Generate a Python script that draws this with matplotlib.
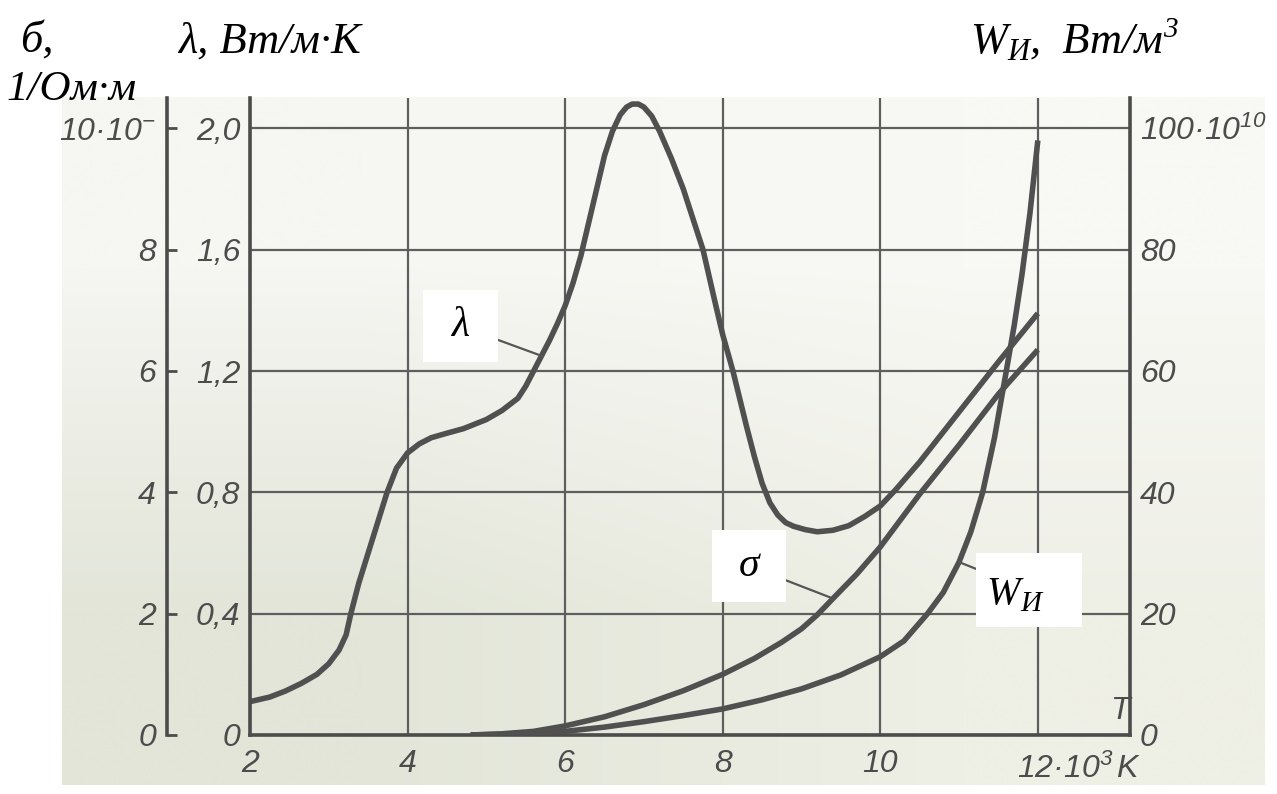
import matplotlib.pyplot as plt
import numpy as np
from matplotlib.patches import Rectangle

# temperature, 10^3 K, and thermal conductivity lambda, W/(m*K)
t_lam = [2.0, 2.25, 2.45, 2.65, 2.85, 3.0, 3.13, 3.22, 3.28, 3.38, 3.5, 3.62,
         3.74, 3.86, 4.0, 4.15, 4.3, 4.5, 4.71, 5.0, 5.2, 5.4, 5.5, 5.6,
         5.7, 5.8, 5.9, 6.0, 6.1, 6.2, 6.3, 6.4, 6.5, 6.6, 6.7, 6.78, 6.85,
         6.93, 7.0, 7.1, 7.2, 7.35, 7.5, 7.65, 7.75, 7.9, 8.0, 8.13, 8.3,
         8.4, 8.5, 8.6, 8.7, 8.8, 8.9, 9.05, 9.2, 9.4, 9.6, 9.8, 10.0, 10.2,
         10.5, 11.0, 11.5, 12.0]
lam = [0.11, 0.125, 0.145, 0.17, 0.20, 0.235, 0.28, 0.33, 0.40, 0.50, 0.60, 0.70,
       0.80, 0.88, 0.93, 0.96, 0.98, 0.995, 1.01, 1.04, 1.07, 1.11, 1.15, 1.20,
       1.25, 1.30, 1.355, 1.415, 1.49, 1.58, 1.69, 1.80, 1.91, 1.99, 2.045, 2.07, 2.08,
       2.08, 2.07, 2.04, 1.99, 1.90, 1.80, 1.68, 1.60, 1.43, 1.32, 1.20, 1.02,
       0.92, 0.83, 0.765, 0.725, 0.70, 0.688, 0.677, 0.67, 0.675, 0.69, 0.72, 0.755, 0.81,
       0.90, 1.065, 1.23, 1.39]

# electrical conductivity sigma
t_sig = [4.8, 5.2, 5.6, 6.0, 6.5, 7.0, 7.5, 8.0, 8.4, 8.75, 9.0, 9.2, 9.4,
         9.7, 10.0, 10.5, 11.0, 11.5, 12.0]
sigma = [0.0, 0.02, 0.06, 0.15, 0.30, 0.50, 0.73, 1.00, 1.26, 1.53, 1.75, 1.98, 2.25,
         2.65, 3.10, 3.97, 4.78, 5.62, 6.35]

# radiated power density W_I, 10^10 W/m^3
t_w = [4.8, 5.5, 6.0, 6.5, 7.0, 7.5, 8.0, 8.5, 9.0, 9.5, 10.0, 10.3, 10.6,
       10.8, 11.0, 11.15, 11.3, 11.45, 11.6, 11.7, 11.8, 11.9, 12.0]
w_rad = [0.0, 0.2, 0.6, 1.3, 2.2, 3.2, 4.3, 5.8, 7.6, 9.9, 12.9, 15.5, 20.0,
         23.5, 28.5, 33.5, 40.0, 49.0, 60.0, 67.5, 76.0, 86.0, 98.0]

t_ticks = [2, 4, 6, 8, 10, 12]
t_labels = ['2', '4', '6', '8', '10', '']
lam_ticks = [0, 0.4, 0.8, 1.2, 1.6, 2.0]
lam_labels = ['0', '0,4', '0,8', '1,2', '1,6', '2,0']
sig_ticks = [0, 2, 4, 6, 8, 10]
sig_labels = ['0', '2', '4', '6', '8', r'$10·10^{-}$']
w_ticks = [0, 20, 40, 60, 80, 100]
w_labels = ['0', '20', '40', '60', '80', r'$100·10^{10}$']

W, H = 1277, 794


def fx(px):
    return px / W


def fy(py):
    return 1 - py / H


plt.rcParams['mathtext.fontset'] = 'custom'
plt.rcParams['mathtext.rm'] = 'Liberation Sans:italic'
plt.rcParams['mathtext.it'] = 'Liberation Sans:italic'

INK = '#4c4c4c'
CURVE = '#505050'
tick_font = dict(family='Liberation Sans', style='italic', size=23, color=INK)
serif = dict(family='Liberation Serif', style='italic', color='black')

fig = plt.figure(figsize=(W / 100, H / 100), dpi=100)
fig.patch.set_facecolor('white')

# paper sheet behind the chart
bg = fig.add_axes([fx(62), fy(785), fx(1265 - 62), (785 - 97) / H], zorder=-10)
shade = np.array([[[246, 246, 242], [248, 248, 244]],
                  [[226, 229, 216], [238, 239, 229]]]) / 255
bg.imshow(shade, aspect='auto', interpolation='bilinear', extent=[0, 1, 0, 1])
bg.axis('off')

ax = fig.add_axes([fx(250), fy(735), fx(1130 - 250), (735 - 98) / H])
ax.patch.set_alpha(0)
ax.set_xlim(2, 13.17)
ax.set_ylim(0, 2.1)
ax.set_xticks(t_ticks)
ax.set_xticklabels(t_labels, **tick_font)
ax.set_yticks(lam_ticks)
ax.set_yticklabels(lam_labels, **tick_font)
ax.tick_params(axis='x', length=0, pad=10)
ax.tick_params(axis='y', length=0, pad=7)
ax.grid(True, color='#5e5e5e', lw=1.6)
for side in ['top', 'right']:
    ax.spines[side].set_visible(False)
for side in ['left', 'bottom']:
    ax.spines[side].set_linewidth(2.6)
    ax.spines[side].set_color(INK)

# right axis: W_I
ax_w = ax.twinx()
ax_w.set_ylim(0, 105)
ax_w.set_yticks(w_ticks)
ax_w.set_yticklabels(w_labels, **tick_font)
ax_w.tick_params(axis='y', length=0, pad=7)
for side in ['top', 'left', 'bottom']:
    ax_w.spines[side].set_visible(False)
ax_w.spines['right'].set_linewidth(2.6)
ax_w.spines['right'].set_color(INK)

# outer left axis: sigma
ax_s = ax.twinx()
ax_s.set_ylim(0, 10.5)
ax_s.yaxis.tick_left()
ax_s.spines['left'].set_position(('outward', 83 * 0.72))
for side in ['top', 'right', 'bottom']:
    ax_s.spines[side].set_visible(False)
ax_s.spines['left'].set_linewidth(2.6)
ax_s.spines['left'].set_color(INK)
ax_s.set_yticks(sig_ticks)
ax_s.set_yticklabels(sig_labels, **tick_font)
ax_s.tick_params(axis='y', direction='in', length=7, width=2, color=INK, pad=8)

line_kw = dict(color=CURVE, lw=4, solid_joinstyle='round', solid_capstyle='butt')
ax.plot(t_lam, lam, **line_kw)
ax_s.plot(t_sig, sigma, **line_kw)
ax_w.plot(t_w, w_rad, **line_kw)

ax.text(11.73, -0.06, r'$12·10^{3}\,K$', ha='left', va='top', **tick_font)
ax.text(13.04, 0.08, 'T', ha='center', va='center',
        family='Liberation Sans', style='italic', size=23, color=INK)

# curve labels with leader lines
lead = dict(arrowstyle='-', color='#555555', lw=1.6, shrinkA=0, shrinkB=0)
i = t_lam.index(5.7)
ax.annotate('', xy=(t_lam[i], lam[i]), xytext=(fx(460), fy(326)),
            textcoords='figure fraction', arrowprops=lead)
i = t_sig.index(9.4)
ax_s.annotate('', xy=(t_sig[i], sigma[i]), xytext=(fx(749), fy(566)),
              textcoords='figure fraction', arrowprops=lead)
i = t_w.index(11.0)
ax_w.annotate('', xy=(t_w[i], w_rad[i]), xytext=(fx(1029), fy(590)),
              textcoords='figure fraction', arrowprops=lead)


def white_box(x0, y0, x1, y1):
    fig.add_artist(Rectangle((fx(x0), fy(y1)), fx(x1 - x0), (y1 - y0) / H,
                             transform=fig.transFigure, fc='white', ec='none',
                             zorder=5))


white_box(423, 290, 498, 362)
white_box(712, 530, 786, 602)
white_box(976, 553, 1082, 627)

fig.text(fx(460), fy(326), 'λ', ha='center', va='center', size=30, zorder=6, **serif)
fig.text(fx(749), fy(566), 'σ', ha='center', va='center', size=30, zorder=6, **serif)
fig.text(fx(1020), fy(604), 'W', ha='right', va='baseline', size=29, zorder=6, **serif)
fig.text(fx(1020), fy(611), 'И', ha='left', va='baseline', size=21, zorder=6, **serif)

renderer = fig.canvas.get_renderer()


def text_run(x, y, parts):
    # place pieces one after another: (string, size, baseline shift in px)
    for s, size, dy in parts:
        t = fig.text(fx(x), fy(y + dy), s, va='baseline', size=size, **serif)
        x = t.get_window_extent(renderer).x1


# axis titles
text_run(20, 52, [('б,', 32, 0)])
text_run(6, 100, [('1/Ом·м', 31, 0)])
text_run(178, 53, [('λ, Вт/м·К', 32, 0)])
text_run(970, 53, [('W', 32, 0), ('И', 22, 7), (',', 32, 0), ('  Вт/м', 32, 0),
                   ('3', 21, -16)])

fig.savefig('out.png', dpi=100)
